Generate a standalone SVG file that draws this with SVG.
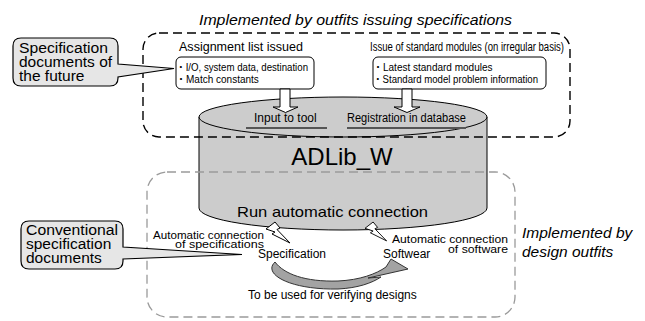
<svg xmlns="http://www.w3.org/2000/svg" width="645" height="321" viewBox="0 0 645 321">
<style>
text{font-family:"Liberation Sans",Arial,"Noto Sans CJK JP",sans-serif;fill:#000}
.it{font-style:italic;font-size:15.5px}
.cl{font-size:15.5px}
.sm{font-size:10px}
.md{font-size:12px}
.xs{font-size:10px}
.call{fill:#e6e6e6;stroke:#000;stroke-width:1.2}
.box{fill:#fff;stroke:#000;stroke-width:1}
.cyl{fill:#cccccc;stroke:#000;stroke-width:1}
.dashk{fill:none;stroke:#000;stroke-width:1.4;stroke-dasharray:9 5}
.dashg{fill:none;stroke:#9a9a9a;stroke-width:1.3;stroke-dasharray:9 5}
.ul{stroke:#555;stroke-width:2}
.bolt{fill:#fff;stroke:#000;stroke-width:1;stroke-linejoin:miter}
.harrow{fill:#fff;stroke:#000;stroke-width:1}
</style>
<defs>
<path id="boltShape" d="M0,7 L9,0 L14,6 L11,7.5 L24,21 L6,12 L9,10 Z"/>
</defs>

<g id="database">
<path class="cyl" d="M199,117 L199,208 A144,22 0 0 0 487,208 L487,117 Z"/>
<ellipse class="cyl" cx="343" cy="117" rx="144" ry="20"/>
<text x="342" y="165" font-size="24" text-anchor="middle">ADLib_W</text>
<text x="237" y="217" font-size="15" textLength="191" lengthAdjust="spacingAndGlyphs">Run automatic connection</text>
<text x="254" y="122" class="md">Input to tool</text>
<line class="ul" x1="246" y1="128" x2="327" y2="128"/>
<text x="347" y="122" class="md" textLength="119" lengthAdjust="spacingAndGlyphs">Registration in database</text>
<line class="ul" x1="347" y1="128" x2="466" y2="128"/>
</g>

<g id="issuers">
<rect class="dashk" x="143" y="33" width="427" height="104" rx="16"/>
<text x="199" y="25" class="it" textLength="313" lengthAdjust="spacingAndGlyphs">Implemented by outfits issuing specifications</text>
</g>

<g id="designers">
<rect class="dashg" x="147" y="172" width="368" height="145" rx="20"/>
<text x="522" y="238" class="it">Implemented by</text>
<text x="522" y="257" class="it">design outfits</text>
</g>

<g id="assignment">
<text x="179" y="51" font-size="12.5" textLength="124" lengthAdjust="spacingAndGlyphs">Assignment list issued</text>
<rect class="box" x="176" y="57" width="138" height="32" rx="5"/>
<text x="176" y="71" class="sm" textLength="132" lengthAdjust="spacingAndGlyphs">・I/O, system data, destination</text>
<text x="176" y="83" class="sm">・Match constants</text>
</g>

<g id="standard-modules">
<text x="370" y="51" class="md" textLength="194" lengthAdjust="spacingAndGlyphs">Issue of standard modules (on irregular basis)</text>
<rect class="box" x="373" y="57" width="173" height="32" rx="5"/>
<text x="373" y="71" class="sm">・Latest standard modules</text>
<text x="373" y="83" class="sm" textLength="165" lengthAdjust="spacingAndGlyphs">・Standard model problem information</text>
</g>

<g id="callout-future">
<path class="call" d="M21,38 H110 Q118,38 118,46 V64 L174,68.5 L118,77 V78 Q118,86 110,86 H21 Q13,86 13,78 V46 Q13,38 21,38 Z"/>
<text x="19" y="53" class="cl" textLength="89" lengthAdjust="spacingAndGlyphs">Specification</text>
<text x="19" y="67" class="cl">documents of</text>
<text x="19" y="81" class="cl">the future</text>
</g>

<g id="callout-conventional">
<path class="call" d="M29,221 H115 Q123,221 123,229 V247 L242,254.5 L123,259 V261 Q123,269 115,269 H29 Q21,269 21,261 V229 Q21,221 29,221 Z"/>
<text x="26" y="235" class="cl" textLength="92" lengthAdjust="spacingAndGlyphs">Conventional</text>
<text x="26" y="249" class="cl">specification</text>
<text x="26" y="263" class="cl">documents</text>
</g>

<g id="specification">
<text x="258" y="258" class="md">Specification</text>
<text x="264" y="239" class="xs" text-anchor="end" textLength="111" lengthAdjust="spacingAndGlyphs">Automatic connection</text>
<text x="264" y="247.5" class="xs" text-anchor="end" textLength="89" lengthAdjust="spacingAndGlyphs">of specifications</text>
</g>

<g id="software">
<text x="383" y="258" class="md">Softwear</text>
<text x="508" y="243" class="xs" text-anchor="end" textLength="116" lengthAdjust="spacingAndGlyphs">Automatic connection</text>
<text x="508" y="252.5" class="xs" text-anchor="end" textLength="60" lengthAdjust="spacingAndGlyphs">of software</text>
</g>

<g id="verify">
<text x="248" y="299" class="md">To be used for verifying designs</text>
</g>

<g id="connectors">
<path class="harrow" d="M280,89 V107 H273 L285.5,112.5 L298,107 H290 V89 Z"/>
<path class="harrow" d="M402,89 V107 H394 L407,112.5 L420,107 H412 V89 Z"/>
<use href="#boltShape" class="bolt" transform="translate(266,222)"/>
<use href="#boltShape" class="bolt" transform="translate(365,222) scale(0.9)"/>
<path d="M275,262 C262,274 290,290 338,289 C358,288 372,283 381,277 L368,278 L408,269 L391,259 L386,267 C376,274 360,280 338,281 C305,282 284,274 275,262 Z" fill="#a3a3a3" stroke="#333" stroke-width="1"/>
</g>
</svg>
